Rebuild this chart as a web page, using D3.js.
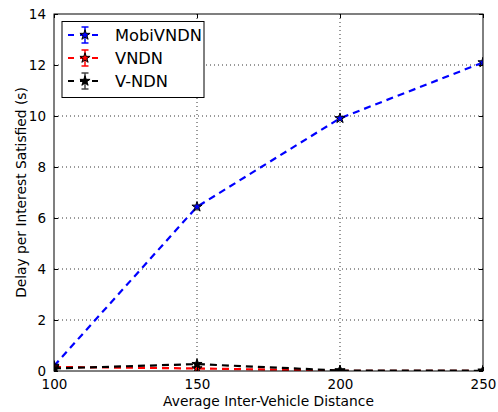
<!DOCTYPE html>
<html><head><meta charset="utf-8">
<script src="https://cdn.jsdelivr.net/npm/d3@7"></script>
<style>body{margin:0;background:#fff}svg{display:block}text{font-family:"DejaVu Sans",sans-serif}</style>
</head><body><svg id="c" width="498" height="412"></svg>
<script>
const distances = [100, 150, 200, 250];
const mobiVNDN = [0.2, 6.44, 9.91, 12.1];
const vndn = [0.16, 0.1, 0.01, 0.0];
const vNdn = [0.1, 0.27, 0.02, 0.01];
const mobiErr = [0.05, 0.05, 0.05, 0.05];
const vndnErr = [0.05, 0.1, 0.02, 0.01];
const vNdnErr = [0.05, 0.1, 0.02, 0.01];
const seriesNames = ["MobiVNDN", "VNDN", "V-NDN"];
const seriesColors = ["#0000ff", "#ff0000", "#000000"];
const xTicks = [100, 150, 200, 250];
const yTicks = [0, 2, 4, 6, 8, 10, 12, 14];

const series = [
  {name: seriesNames[0], color: seriesColors[0], values: mobiVNDN, err: mobiErr},
  {name: seriesNames[1], color: seriesColors[1], values: vndn, err: vndnErr},
  {name: seriesNames[2], color: seriesColors[2], values: vNdn, err: vNdnErr}
];

const svg = d3.select("#c");
const L = 54, R = 483, T = 14, B = 371;
const x = d3.scaleLinear().domain([100, 250]).range([L, R]);
const y = d3.scaleLinear().domain([0, 14]).range([B, T]);

const grid = svg.append("g");
grid.selectAll(".gx").data(xTicks.slice(1, -1)).enter().append("line")
  .attr("x1", d => x(d)).attr("x2", d => x(d)).attr("y1", T).attr("y2", B)
  .attr("stroke", "#000").attr("stroke-width", 0.8).attr("stroke-dasharray", "1,3");
grid.selectAll(".gy").data(yTicks.slice(1, -1)).enter().append("line")
  .attr("y1", d => y(d)).attr("y2", d => y(d)).attr("x1", L).attr("x2", R)
  .attr("stroke", "#000").attr("stroke-width", 0.8).attr("stroke-dasharray", "1,3");

svg.append("clipPath").attr("id", "clip").append("rect")
  .attr("x", L).attr("y", T - 10).attr("width", R - L).attr("height", B - T + 10);

const star = d3.symbol().type(d3.symbolStar).size(32);
const line = d3.line().x((d, i) => x(distances[i])).y(d => y(d));
const plot = svg.append("g").attr("clip-path", "url(#clip)");

series.forEach(s => {
  plot.append("path").datum(s.values).attr("d", line)
    .attr("fill", "none").attr("stroke", s.color).attr("stroke-width", 2.2)
    .attr("stroke-dasharray", "7,5");
});
series.forEach(s => {
  const g = plot.append("g");
  s.values.forEach((v, i) => {
    const cx = x(distances[i]);
    g.append("line").attr("x1", cx).attr("x2", cx).attr("y1", y(v - s.err[i])).attr("y2", y(v + s.err[i]))
      .attr("stroke", s.color).attr("stroke-width", 1);
    g.append("path").attr("d", star).attr("transform", `translate(${cx},${y(v)})`)
      .attr("fill", s.color).attr("stroke", "#000").attr("stroke-width", 1);
  });
});

svg.append("rect").attr("x", L).attr("y", T).attr("width", R - L).attr("height", B - T)
  .attr("fill", "none").attr("stroke", "#000").attr("stroke-width", 1);

const xb = svg.append("g").attr("transform", `translate(0,${B})`)
  .call(d3.axisBottom(x).tickValues(xTicks).tickSize(-4).tickPadding(8).tickFormat(d3.format("d")));
const xt = svg.append("g").attr("transform", `translate(0,${T})`)
  .call(d3.axisTop(x).tickValues(xTicks).tickSize(-4).tickFormat(""));
const yl = svg.append("g").attr("transform", `translate(${L},0)`)
  .call(d3.axisLeft(y).tickValues(yTicks).tickSize(-4).tickPadding(8).tickFormat(d3.format("d")));
const yr = svg.append("g").attr("transform", `translate(${R},0)`)
  .call(d3.axisRight(y).tickValues(yTicks).tickSize(-4).tickFormat(""));
[xb, xt, yl, yr].forEach(a => {
  a.select(".domain").remove();
  a.selectAll("text").attr("font-size", 13.5).attr("fill", "#000").style("font-family", "DejaVu Sans");
  a.selectAll("line").attr("stroke", "#000");
});
yl.selectAll("text").attr("dy", "0.35em");

svg.append("text").attr("x", (L + R) / 2).attr("y", 406).attr("text-anchor", "middle")
  .attr("font-size", 13.8).text("Average Inter-Vehicle Distance");
svg.append("text").attr("transform", `translate(26,${(T + B) / 2}) rotate(-90)`)
  .attr("text-anchor", "middle").attr("font-size", 13.8).text("Delay per Interest Satisfied (s)");

const lg = svg.append("g");
lg.append("rect").attr("x", 62).attr("y", 21.5).attr("width", 142).attr("height", 76)
  .attr("fill", "#fff").attr("stroke", "#000").attr("stroke-width", 1);
series.forEach((s, i) => {
  const cy = 35 + i * 23;
  const ec = s.color === "#000000" ? "#444" : s.color;
  lg.append("line").attr("x1", 68).attr("x2", 101).attr("y1", cy).attr("y2", cy)
    .attr("stroke", s.color).attr("stroke-width", 2.2).attr("stroke-dasharray", "6,6")
    .attr("stroke-dashoffset", 0);
  lg.append("line").attr("x1", 85).attr("x2", 85).attr("y1", cy - 8).attr("y2", cy + 8)
    .attr("stroke", ec).attr("stroke-width", 1.5);
  [cy - 8, cy + 8].forEach(yy => lg.append("line").attr("x1", 81.5).attr("x2", 88.5).attr("y1", yy).attr("y2", yy)
    .attr("stroke", ec).attr("stroke-width", 1.5));
  lg.append("path").attr("d", star).attr("transform", `translate(85,${cy})`)
    .attr("fill", s.color).attr("stroke", "#000").attr("stroke-width", 1);
  lg.append("text").attr("x", 115).attr("y", cy).attr("dy", "0.35em")
    .attr("font-size", 16.3).text(s.name);
});
</script></body></html>
